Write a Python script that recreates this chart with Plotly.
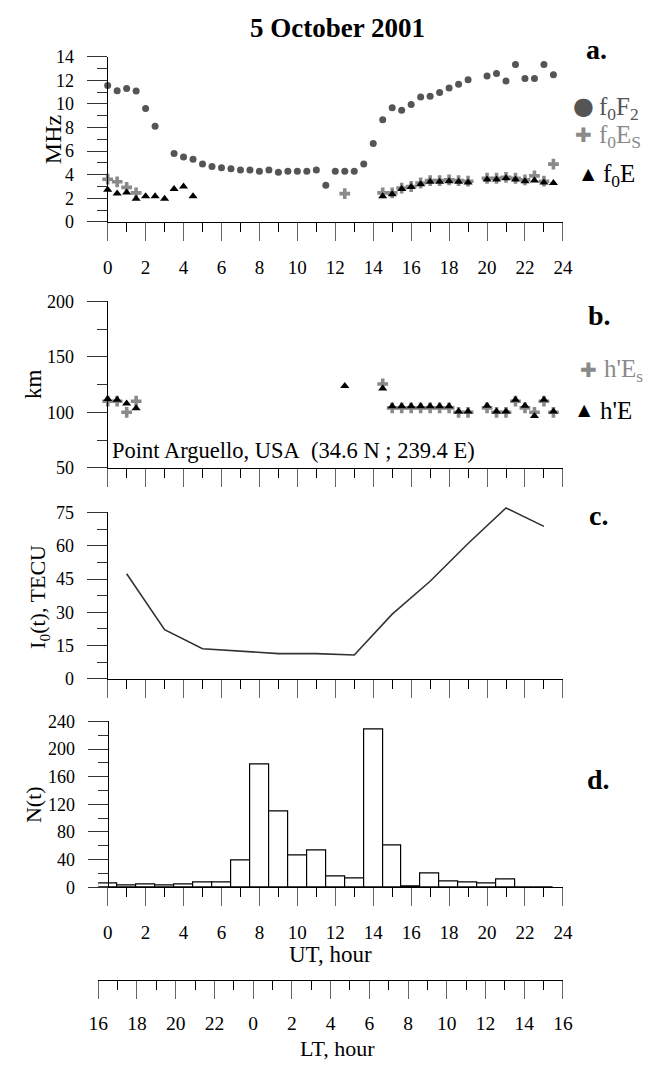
import plotly.graph_objects as go

W, H = 667, 1067
FONT = "Liberation Serif"

# ---------------- data ----------------
ut_f0F2 = [0, 0.5, 1, 1.5, 2, 2.5, 3.5, 4, 4.5, 5, 5.5, 6, 6.5, 7, 7.5, 8, 8.5, 9, 9.5, 10,
           10.5, 11, 11.5, 12, 12.5, 13, 13.5, 14, 14.5, 15, 15.5, 16, 16.5, 17, 17.5, 18,
           18.5, 19, 20, 20.5, 21, 21.5, 22, 22.5, 23, 23.5]
f0F2 = [11.55, 11.1, 11.3, 11.08, 9.6, 8.1, 5.8, 5.5, 5.3, 4.9, 4.7, 4.6, 4.5, 4.4, 4.4, 4.3,
        4.4, 4.2, 4.3, 4.3, 4.3, 4.4, 3.1, 4.3, 4.3, 4.3, 4.9, 6.65, 8.65, 9.67, 9.45, 9.95,
        10.58, 10.64, 10.97, 11.35, 11.66, 12.04, 12.35, 12.57, 11.93, 13.34, 12.15, 12.15,
        13.34, 12.46]

ut_f0Es = [0, 0.5, 1, 1.5, 12.5, 14.5, 15, 15.5, 16, 16.5, 17, 17.5, 18, 18.5, 19, 20, 20.5,
           21, 21.5, 22, 22.5, 23, 23.5]
f0Es = [3.62, 3.4, 2.93, 2.46, 2.4, 2.46, 2.46, 2.87, 3.0, 3.3, 3.5, 3.5, 3.56, 3.5, 3.45,
        3.7, 3.7, 3.78, 3.7, 3.56, 3.9, 3.45, 4.9]

ut_f0E = [0, 0.5, 1, 1.5, 2, 2.5, 3, 3.5, 4, 4.5, 14.5, 15, 15.5, 16, 16.5, 17, 17.5, 18,
          18.5, 19, 20, 20.5, 21, 21.5, 22, 22.5, 23, 23.5]
f0E = [2.73, 2.4, 2.5, 1.96, 2.18, 2.18, 1.96, 2.79, 3.0, 2.18, 2.18, 2.35, 2.8, 2.95, 3.2,
       3.4, 3.4, 3.45, 3.4, 3.35, 3.6, 3.6, 3.7, 3.6, 3.45, 3.5, 3.35, 3.3]

ut_hE = [0, 0.5, 1, 1.5, 12.5, 14.5, 15, 15.5, 16, 16.5, 17, 17.5, 18, 18.5, 19, 20, 20.5,
         21, 21.5, 22, 22.5, 23, 23.5]
hE = [112, 111.4, 107.9, 103.7, 123.8, 121.4, 105.5, 105.5, 105.5, 105.5, 105.5, 105.5,
      105.5, 100.8, 100.8, 106, 100.8, 100.8, 111.4, 106, 96.6, 111.4, 100.8]

ut_hEs = [0, 0.5, 1, 1.5, 14.5, 15, 15.5, 16, 16.5, 17, 17.5, 18, 18.5, 19, 20, 20.5, 21,
          21.5, 22, 22.5, 23, 23.5]
hEs = [110, 110, 100, 110, 125.6, 104, 104, 104, 104, 104, 104, 104, 100, 100, 104, 100,
       100, 110, 104, 100, 110, 100]

ut_I0 = [1, 3, 5, 7, 9, 11, 13, 15, 17, 19, 21, 23]
I0 = [47.4, 22.2, 13.6, 12.5, 11.4, 11.4, 10.8, 29.2, 44, 61, 77, 68.7]

ut_N = list(range(24))
N = [5.2, 3.3, 4.7, 3.3, 4.7, 7.6, 7.6, 38.3, 178, 110, 46.4, 53.5, 15.1, 13.3, 229, 60.6,
     1, 20.4, 8.5, 7.6, 5.2, 10.9, 0, 0]

ut_ticks = list(range(0, 25, 2))
lt_labels = ["16", "18", "20", "22", "0", "2", "4", "6", "8", "10", "12", "14", "16"]

# ---------------- layout geometry (pixels) ----------------
XL, XR = 100.7, 570.0
pxh = (XR - XL) / 24.0


def fy(p):
    return 1 - p / H


x_dom = [XL / W, XR / W]
xd_dom = [(XL - 0.5 * pxh) / W, XR / W]

# panel c: visible axis 0..75 spans 681.7 -> 512 px; line drawn on an invisible taller axis
C0, C75, CTOP = 681.7, 512.0, 495.0
c_ext_max = 75 * (C0 - CTOP) / (C0 - C75)

GRAY_F2 = "#555555"
GRAY_ES = "#8a8a8a"

fig = go.Figure()

# panel a
fig.add_trace(go.Scatter(x=ut_f0F2, y=f0F2, mode="markers", xaxis="x", yaxis="y",
                         marker=dict(symbol="circle", size=7, color=GRAY_F2),
                         cliponaxis=False, showlegend=False))
fig.add_trace(go.Scatter(x=ut_f0Es, y=f0Es, mode="markers", xaxis="x", yaxis="y",
                         marker=dict(symbol="cross", size=9, color=GRAY_ES),
                         cliponaxis=False, showlegend=False))
fig.add_trace(go.Scatter(x=ut_f0E, y=f0E, mode="markers", xaxis="x", yaxis="y",
                         marker=dict(symbol="triangle-up", size=8, color="black"),
                         cliponaxis=False, showlegend=False))
# panel b
fig.add_trace(go.Scatter(x=ut_hEs, y=hEs, mode="markers", xaxis="x2", yaxis="y2",
                         marker=dict(symbol="cross", size=9, color=GRAY_ES),
                         cliponaxis=False, showlegend=False))
fig.add_trace(go.Scatter(x=ut_hE, y=hE, mode="markers", xaxis="x2", yaxis="y2",
                         marker=dict(symbol="triangle-up", size=8, color="black"),
                         cliponaxis=False, showlegend=False))
# panel c (axes holder + line on the taller invisible axis so the peak is not clipped)
fig.add_trace(go.Scatter(x=ut_I0, y=I0, mode="none", xaxis="x3", yaxis="y3",
                         showlegend=False, hoverinfo="skip"))
fig.add_trace(go.Scatter(x=ut_I0, y=I0, mode="lines", xaxis="x3", yaxis="y6",
                         line=dict(color="#333333", width=1.6), showlegend=False))
# panel d
fig.add_trace(go.Bar(x=ut_N, y=N, xaxis="x4", yaxis="y4", width=1.0,
                     marker=dict(color="white", line=dict(color="black", width=1.2)),
                     showlegend=False))
# helper for LT axis
fig.add_trace(go.Scatter(x=[ut_ticks[0], ut_ticks[-1]], y=[None, None], xaxis="x5", yaxis="y4",
                         mode="markers", showlegend=False, hoverinfo="skip"))

tickfont = dict(family=FONT, size=19, color="black")


def xax(show_labels, dom, rng, anchor, standoff=10, font=tickfont):
    return dict(domain=dom, range=rng, anchor=anchor, showline=True, linecolor="black",
                linewidth=1, ticks="outside", ticklen=18, tickwidth=1, tickcolor="#666666",
                tick0=0, dtick=2, showgrid=False, zeroline=False,
                minor=dict(ticks="outside", tick0=0, dtick=1, ticklen=9, tickwidth=1,
                           tickcolor="black", showgrid=False),
                showticklabels=show_labels, tickfont=font, ticklabelstandoff=standoff,
                fixedrange=True)


def yax(dom, rng, dtick, mdtick, anchor="x", position=None):
    d = dict(domain=dom, range=rng, showline=True, linecolor="black", linewidth=1,
             ticks="outside", ticklen=20, tickwidth=1, tickcolor="#333333", tick0=0,
             dtick=dtick, showgrid=False, zeroline=False,
             minor=dict(ticks="outside", tick0=0, dtick=mdtick, ticklen=10, tickwidth=1,
                        tickcolor="#333333", showgrid=False),
             tickfont=dict(family=FONT, size=18, color="black"), ticklabelstandoff=9,
             fixedrange=True)
    if position is None:
        d["anchor"] = anchor
    else:
        d["anchor"] = "free"
        d["position"] = position
    return d


fig.update_layout(
    width=W, height=H, margin=dict(l=0, r=0, t=0, b=0),
    paper_bgcolor="white", plot_bgcolor="rgba(0,0,0,0)",
    font=dict(family=FONT, color="black"),
    xaxis=xax(True, x_dom, [0, 24], "y"),
    yaxis=yax([fy(216), fy(47.5)], [0, 14], 2, 1, anchor="x"),
    xaxis2=xax(False, x_dom, [0, 24], "y2"),
    yaxis2=yax([fy(466.5), fy(297)], [50, 200], 50, 25, anchor="x2"),
    xaxis3=xax(False, x_dom, [0, 24], "y3"),
    yaxis3=yax([fy(C0), fy(C75)], [0, 75], 15, 7.5, anchor="x3"),
    yaxis6=dict(domain=[fy(C0), fy(CTOP)], range=[0, c_ext_max], anchor="x3",
                visible=False, fixedrange=True),
    xaxis4=xax(True, xd_dom, [-0.5, 24], "y4"),
    yaxis4=yax([fy(894), fy(725)], [0, 240], 40, 20, position=XL / W),
    bargap=0,
)
x5 = xax(True, x_dom, [0, 24], "free", standoff=7,
         font=dict(family=FONT, size=19.5, color="black"))
x5.update(position=fy(989), tickmode="array", tickvals=ut_ticks, ticktext=lt_labels,
          overlaying="x4")
x5["minor"].update(tickmode="linear")
fig.update_layout(xaxis5=x5)

ann = []


def text(x, y, s, size, color="black", bold=False, xanchor="center", angle=0, family=FONT):
    if bold:
        s = "<b>" + s + "</b>"
    ann.append(dict(x=x / W, y=fy(y), xref="paper", yref="paper", text=s, showarrow=False,
                    xanchor=xanchor, yanchor="middle", textangle=angle,
                    font=dict(family=family, size=size, color=color)))


text(337.5, 18, "5 October 2001", 27, bold=True)
# panel labels
text(605, 40, "a.", 28, bold=True)
text(608, 311, "b.", 28, bold=True)
text(607, 515, "c.", 28, bold=True)
text(607, 784, "d.", 28, bold=True)
# y axis titles
text(44, 132, "MHz", 24, angle=-90)
text(25, 381, "km", 23, angle=-90)
text(30, 598, "I<sub>0</sub>(t), TECU", 22, angle=-90)
text(25, 810, "N(t)", 22, angle=-90)
# x axis titles
text(330, 963, "UT, hour", 23)
text(338, 1058, "LT, hour", 22)
# station
text(103, 449, "Point Arguello, USA\u00a0\u00a0(34.6 N ; 239.4 E)", 22.5, xanchor="left")
# legend a
text(591, 98, "\u25cf", 24, color=GRAY_F2, family="DejaVu Sans")
text(605, 100, "f<sub>0</sub>F<sub>2</sub>", 25, color=GRAY_F2, xanchor="left")
text(591, 127, "\u271a", 20, color=GRAY_ES, family="DejaVu Sans")
text(605, 129, "f<sub>0</sub>E<sub>S</sub>", 25, color=GRAY_ES, xanchor="left")
text(596, 167, "\u25b2", 16, color="black", family="DejaVu Sans")
text(609, 169, "f<sub>0</sub>E", 25, color="black", xanchor="left")
# legend b
text(596, 367, "\u271a", 20, color=GRAY_ES, family="DejaVu Sans")
text(610, 367, "h'E<sub>s</sub>", 25, color=GRAY_ES, xanchor="left")
text(592, 407, "\u25b2", 16, color="black", family="DejaVu Sans")
text(606, 408, "h'E", 25, color="black", xanchor="left")

fig.update_layout(annotations=ann)

fig.write_html("out.html")
